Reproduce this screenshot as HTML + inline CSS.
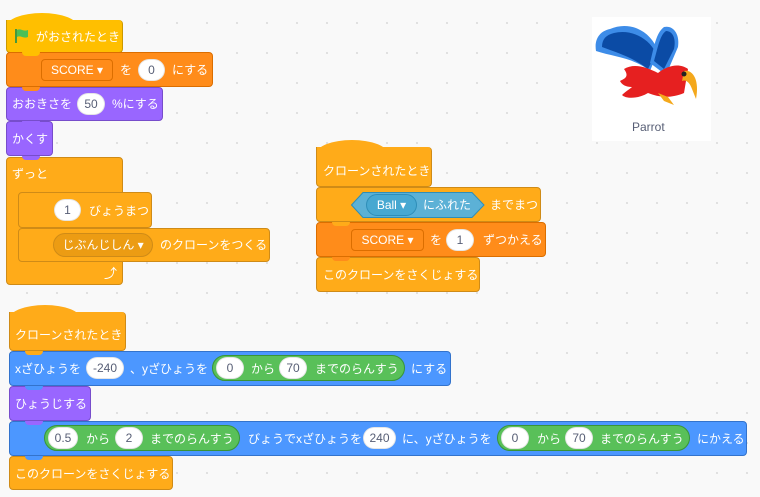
<!DOCTYPE html>
<html><head><meta charset="utf-8"><style>
body{margin:0;width:760px;height:497px;overflow:hidden;background:#F9F9F9;
background-image:radial-gradient(circle,#dcdcdc 0.8px,transparent 1.2px);background-size:30px 30px;background-position:12px 8px;
font-family:"Liberation Sans","Noto Sans CJK JP",sans-serif;}
.b{position:absolute;border-radius:4px;box-sizing:border-box;border:1px solid rgba(0,0,0,0.12);}
.t{position:absolute;color:#fff;font-size:12px;line-height:14px;white-space:nowrap;}
.i{position:absolute;background:#fff;border-radius:12px;color:#575E75;font-size:12px;line-height:20px;height:22px;text-align:center;box-sizing:border-box;border:1px solid rgba(0,0,0,0.1);}
.d{position:absolute;border-radius:4px;color:#fff;font-size:12px;line-height:20px;height:22px;box-sizing:border-box;text-align:center;white-space:nowrap;}
.g{position:absolute;background:#59C059;border:1px solid #389438;border-radius:13px;height:26px;box-sizing:border-box;}
.n{position:absolute;width:18px;height:4px;border-radius:0 0 4px 4px;}
.hat{position:absolute;border-radius:50% 50% 0 0/100% 100% 0 0;}
</style></head><body>

<!-- Stack 1 -->
<div class="hat" style="left:6px;top:13px;width:72px;height:14px;background:#FFBF00"></div>
<div class="b" style="left:6px;top:20px;width:117px;height:33px;background:#FFBF00;border-color:#CC9900;border-top:none;border-radius:0 4px 4px 4px"></div>
<svg style="position:absolute;left:14px;top:28px" width="16" height="16"><path d="M2 1v14" stroke="#45993D" stroke-width="2"/><path d="M3 2c4-2 6 2 11 0v7c-5 2-7-2-11 0z" fill="#4CBF56"/></svg>
<span class="t" style="left:36px;top:30px">がおされたとき</span>

<div class="b" style="left:6px;top:52px;width:207px;height:35px;background:#FF8C1A;border-color:#DB6E00"></div>
<div class="n" style="left:22px;top:52px;background:#FFBF00"></div>
<div class="d" style="left:41px;top:59px;width:72px;background:#FF8C1A;border:1px solid #DB6E00">SCORE ▾</div>
<span class="t" style="left:120px;top:63px">を</span>
<div class="i" style="left:138px;top:59px;width:27px">0</div>
<span class="t" style="left:172px;top:63px">にする</span>

<div class="b" style="left:6px;top:87px;width:157px;height:34px;background:#9966FF;border-color:#774DCB"></div>
<div class="n" style="left:22px;top:87px;background:#FF8C1A"></div>
<span class="t" style="left:12px;top:97px">おおきさを</span>
<div class="i" style="left:77px;top:93px;width:28px">50</div>
<span class="t" style="left:112px;top:97px">%にする</span>

<div class="b" style="left:6px;top:121px;width:47px;height:35px;background:#9966FF;border-color:#774DCB"></div>
<div class="n" style="left:22px;top:121px;background:#9966FF"></div>
<span class="t" style="left:12px;top:132px">かくす</span>

<div class="b" style="left:6px;top:157px;width:117px;height:128px;background:#FFAB19;border-color:#CF8B17"></div>
<div class="n" style="left:22px;top:156px;background:#9966FF"></div>
<span class="t" style="left:12px;top:167px">ずっと</span>
<div class="b" style="left:18px;top:192px;width:134px;height:36px;background:#FFAB19;border-color:#CF8B17"></div>
<span class="t" style="left:89px;top:204px">びょうまつ</span>
<div class="i" style="left:54px;top:199px;width:27px">1</div>
<div class="b" style="left:18px;top:228px;width:252px;height:34px;background:#FFAB19;border-color:#CF8B17"></div>
<div class="d" style="left:53px;top:233px;width:100px;height:24px;line-height:22px;border-radius:12px;background:#EC9C13;border:1px solid #CF8B17">じぶんじしん ▾</div>
<span class="t" style="left:160px;top:238px">のクローンをつくる</span>
<span class="t" style="left:104px;top:267px;font-size:13px">⤴</span>

<!-- Stack 2 -->
<div class="hat" style="left:316px;top:140px;width:72px;height:14px;background:#FFAB19"></div>
<div class="b" style="left:316px;top:147px;width:116px;height:40px;background:#FFAB19;border-color:#CF8B17;border-top:none;border-radius:0 4px 4px 4px"></div>
<span class="t" style="left:323px;top:164px">クローンされたとき</span>
<div class="b" style="left:316px;top:187px;width:225px;height:35px;background:#FFAB19;border-color:#CF8B17"></div>
<svg style="position:absolute;left:351px;top:192px" width="134" height="26"><polygon points="12,0.5 121,0.5 133,13 121,25.5 12,25.5 0.5,13" fill="#5CB1D6" stroke="#2E8EB8"/></svg>
<div class="d" style="left:366px;top:194px;width:51px;border-radius:11px;background:#47A8D1;border:1px solid #2E8EB8">Ball ▾</div>
<span class="t" style="left:423px;top:198px">にふれた</span>
<span class="t" style="left:490px;top:198px">までまつ</span>
<div class="b" style="left:316px;top:222px;width:230px;height:35px;background:#FF8C1A;border-color:#DB6E00"></div>
<div class="n" style="left:332px;top:222px;background:#FFAB19"></div>
<div class="d" style="left:351px;top:229px;width:73px;background:#FF8C1A;border:1px solid #DB6E00">SCORE ▾</div>
<span class="t" style="left:430px;top:233px">を</span>
<div class="i" style="left:446px;top:229px;width:28px">1</div>
<span class="t" style="left:483px;top:233px">ずつかえる</span>
<div class="b" style="left:316px;top:257px;width:164px;height:35px;background:#FFAB19;border-color:#CF8B17"></div>
<div class="n" style="left:332px;top:257px;background:#FF8C1A"></div>
<span class="t" style="left:323px;top:268px">このクローンをさくじょする</span>

<!-- Stack 3 -->
<div class="hat" style="left:9px;top:305px;width:72px;height:14px;background:#FFAB19"></div>
<div class="b" style="left:9px;top:312px;width:117px;height:39px;background:#FFAB19;border-color:#CF8B17;border-top:none;border-radius:0 4px 4px 4px"></div>
<span class="t" style="left:15px;top:328px">クローンされたとき</span>
<div class="b" style="left:9px;top:351px;width:442px;height:35px;background:#4C97FF;border-color:#3373CC"></div>
<div class="n" style="left:25px;top:351px;background:#FFAB19"></div>
<span class="t" style="left:15px;top:362px">xざひょうを</span>
<div class="i" style="left:86px;top:357px;width:38px">-240</div>
<span class="t" style="left:130px;top:362px">、yざひょうを</span>
<div class="g" style="left:212px;top:355px;width:193px"></div>
<div class="i" style="left:216px;top:357px;width:28px">0</div>
<span class="t" style="left:251px;top:362px">から</span>
<div class="i" style="left:279px;top:357px;width:28px">70</div>
<span class="t" style="left:315px;top:362px">までのらんすう</span>
<span class="t" style="left:411px;top:362px">にする</span>
<div class="b" style="left:9px;top:386px;width:82px;height:35px;background:#9966FF;border-color:#774DCB"></div>
<div class="n" style="left:25px;top:386px;background:#4C97FF"></div>
<span class="t" style="left:15px;top:397px">ひょうじする</span>
<div class="b" style="left:9px;top:421px;width:738px;height:35px;background:#4C97FF;border-color:#3373CC"></div>
<div class="n" style="left:25px;top:421px;background:#9966FF"></div>
<div class="g" style="left:44px;top:425px;width:196px"></div>
<div class="i" style="left:48px;top:427px;width:30px">0.5</div>
<span class="t" style="left:86px;top:432px">から</span>
<div class="i" style="left:115px;top:427px;width:28px">2</div>
<span class="t" style="left:150px;top:432px">までのらんすう</span>
<span class="t" style="left:248px;top:432px">びょうでxざひょうを</span>
<div class="i" style="left:363px;top:427px;width:33px">240</div>
<span class="t" style="left:402px;top:432px">に、yざひょうを</span>
<div class="g" style="left:497px;top:425px;width:193px"></div>
<div class="i" style="left:501px;top:427px;width:28px">0</div>
<span class="t" style="left:537px;top:432px">から</span>
<div class="i" style="left:565px;top:427px;width:28px">70</div>
<span class="t" style="left:600px;top:432px">までのらんすう</span>
<span class="t" style="left:697px;top:432px">にかえる</span>
<div class="b" style="left:9px;top:456px;width:164px;height:34px;background:#FFAB19;border-color:#CF8B17"></div>
<div class="n" style="left:25px;top:456px;background:#4C97FF"></div>
<span class="t" style="left:15px;top:467px">このクローンをさくじょする</span>

<!-- Sprite -->
<div style="position:absolute;left:592px;top:17px;width:119px;height:124px;background:#fff"></div>
<svg style="position:absolute;left:592px;top:17px" width="119" height="100">
<path d="M18 12c18-8 40 0 48 22l-8 20C40 40 22 40 4 34 2 22 8 14 18 12z" fill="#3D8CE8"/>
<path d="M22 16c16-4 34 4 42 20l-8 16C40 40 26 36 10 30 10 22 14 18 22 16z" fill="#0B4BA5"/>
<path d="M72 10c10-2 16 8 14 20L74 58 58 46C62 30 64 16 72 10z" fill="#3D8CE8"/>
<path d="M74 14c8 0 10 10 8 18L72 52 62 44C66 30 68 18 74 14z" fill="#0B4BA5"/>
<path d="M32 52c10-6 22-2 34 4 10-8 22-10 30-4l-4 24c-14 6-26 4-36 0-10 6-22 6-26 2 4-4 8-6 10-8-6 0-10-2-12-6 4-2 10-4 4-12z" fill="#E62020"/>
<path d="M92 54c8-2 16 8 12 28l-4-10c-2-6-6-10-10-8z" fill="#F4A81C"/>
<circle cx="92" cy="57" r="2.5" fill="#222"/>
<path d="M66 76l10 4 6 8-10-4z" fill="#F4A81C"/>
</svg>
<span style="position:absolute;left:632px;top:120px;font-size:12px;color:#575E75">Parrot</span>
</body></html>
